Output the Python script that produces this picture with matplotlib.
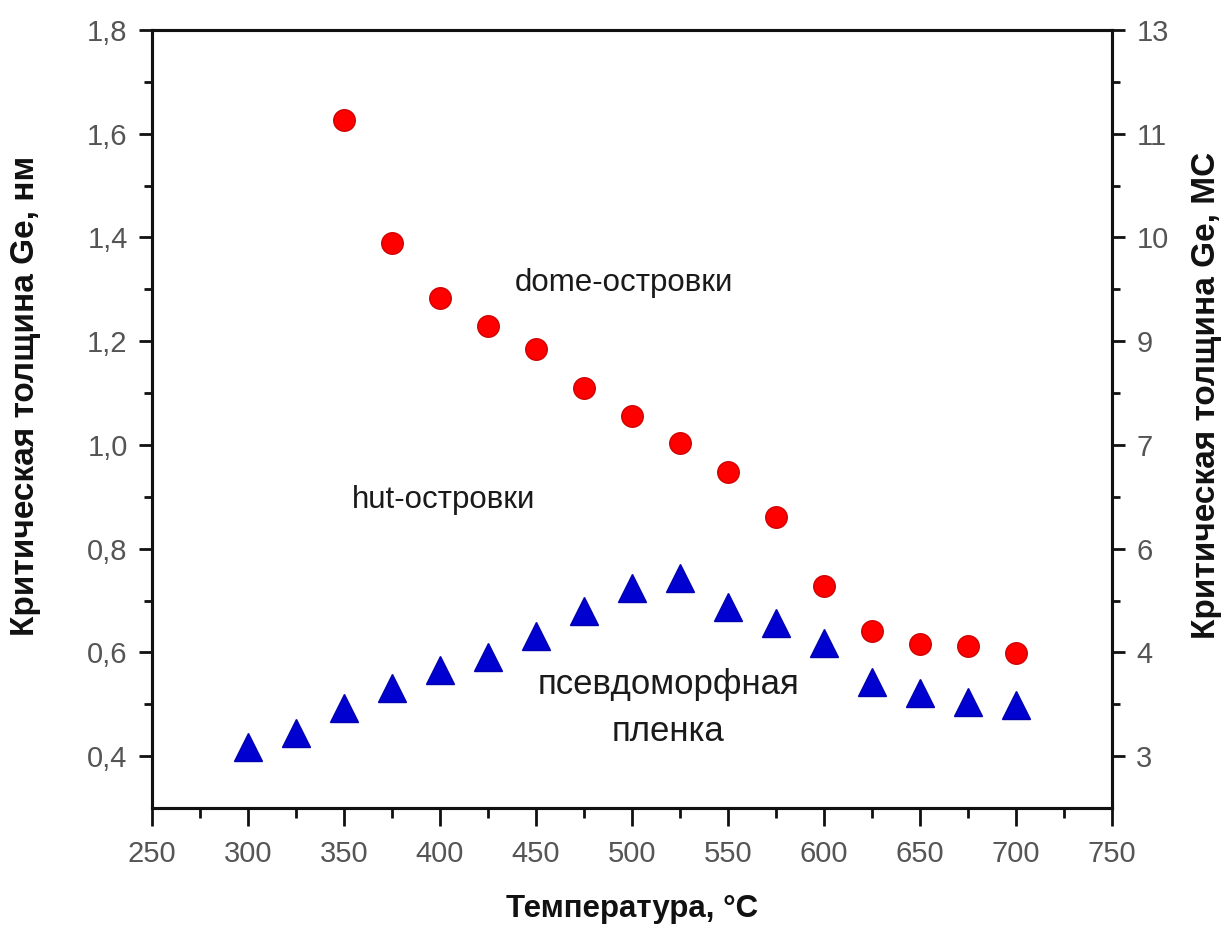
import matplotlib
matplotlib.use("Agg")
import matplotlib.pyplot as plt

plt.rcParams['font.family'] = ['Liberation Sans', 'DejaVu Sans']

# Data
temp_dome = [350, 375, 400, 425, 450, 475, 500, 525, 550, 575, 600, 625, 650, 675, 700]
h_dome = [1.626, 1.390, 1.283, 1.230, 1.185, 1.110, 1.055, 1.003, 0.948, 0.862, 0.728, 0.642, 0.617, 0.613, 0.598]

temp_hut = [300, 325, 350, 375, 400, 425, 450, 475, 500, 525, 550, 575, 600, 625, 650, 675, 700]
h_hut = [0.418, 0.445, 0.493, 0.532, 0.567, 0.592, 0.632, 0.680, 0.725, 0.744, 0.688, 0.657, 0.619, 0.542, 0.522, 0.505, 0.499]

x_ticks = [250, 300, 350, 400, 450, 500, 550, 600, 650, 700, 750]
x_minor = [275, 325, 375, 425, 475, 525, 575, 625, 675, 725]
y_ticks = [0.4, 0.6, 0.8, 1.0, 1.2, 1.4, 1.6, 1.8]
y_labels_left = ['0,4', '0,6', '0,8', '1,0', '1,2', '1,4', '1,6', '1,8']
y_minor = [0.5, 0.7, 0.9, 1.1, 1.3, 1.5, 1.7]
y_labels_right = ['3', '4', '6', '7', '9', '10', '11', '13']

fig = plt.figure(figsize=(12.30, 9.31), dpi=100)
ax = fig.add_axes([152/1230, 1 - 808/931, (1112-152)/1230, (808-30)/931])

ax.plot(temp_dome, h_dome, linestyle='none', marker='o', markersize=15.5,
        markerfacecolor='#ff0000', markeredgecolor='#d00000', markeredgewidth=1)
ax.plot(temp_hut, h_hut, linestyle='none', marker='^', markersize=19.5,
        markerfacecolor='#0000d0', markeredgecolor='#0000b0', markeredgewidth=1)

ax.set_xlim(250, 750)
ax.set_ylim(0.3, 1.8)

ax.set_xticks(x_ticks)
ax.set_xticks(x_minor, minor=True)
ax.set_yticks(y_ticks)
ax.set_yticklabels(y_labels_left)
ax.set_yticks(y_minor, minor=True)

for s in ax.spines.values():
    s.set_linewidth(2.2)
    s.set_color('#111111')

ax.tick_params(axis='x', which='major', direction='out', length=13, width=2,
               labelsize=21, labelcolor='#555555', color='#111111', pad=10)
ax.tick_params(axis='x', which='minor', direction='out', length=7, width=2,
               color='#111111')
ax.tick_params(axis='y', which='major', direction='out', length=9.5, width=2,
               labelsize=21, labelcolor='#555555', color='#111111', pad=8)
ax.tick_params(axis='y', which='minor', direction='out', length=6, width=2,
               color='#111111')

ax2 = ax.twinx()
ax2.set_ylim(0.3, 1.8)
ax2.set_yticks(y_ticks)
ax2.set_yticklabels(y_labels_right)
ax2.set_yticks(y_minor, minor=True)
for s in ax2.spines.values():
    s.set_linewidth(2.2)
    s.set_color('#111111')
ax2.tick_params(axis='y', which='major', direction='out', length=9.5, width=2,
                labelsize=21, labelcolor='#555555', color='#111111', pad=8)
ax2.tick_params(axis='y', which='minor', direction='out', length=6, width=2,
                color='#111111')

ax.set_xlabel('Температура, °C', fontsize=22.5, fontweight='bold', labelpad=19, color='#111111')
ax.set_ylabel('Критическая толщина Ge, нм', fontsize=24, fontweight='bold', color='#111111')
ax2.set_ylabel('Критическая толщина Ge, МС', fontsize=24, fontweight='bold', color='#111111')
ax.yaxis.set_label_coords(-0.116, 0.53)
ax2.yaxis.set_label_coords(1.082, 0.53)

txt_kw = dict(color='#1a1a1a', va='center')
ax.text(496, 1.312, 'dome-островки', ha='center', fontsize=22.5, **txt_kw)
ax.text(402, 0.893, 'hut-островки', ha='center', fontsize=22.5, **txt_kw)
ax.text(519, 0.538, 'псевдоморфная', ha='center', fontsize=25, **txt_kw)
ax.text(519, 0.448, 'пленка', ha='center', fontsize=25, **txt_kw)

fig.savefig('out.png', dpi=100)
